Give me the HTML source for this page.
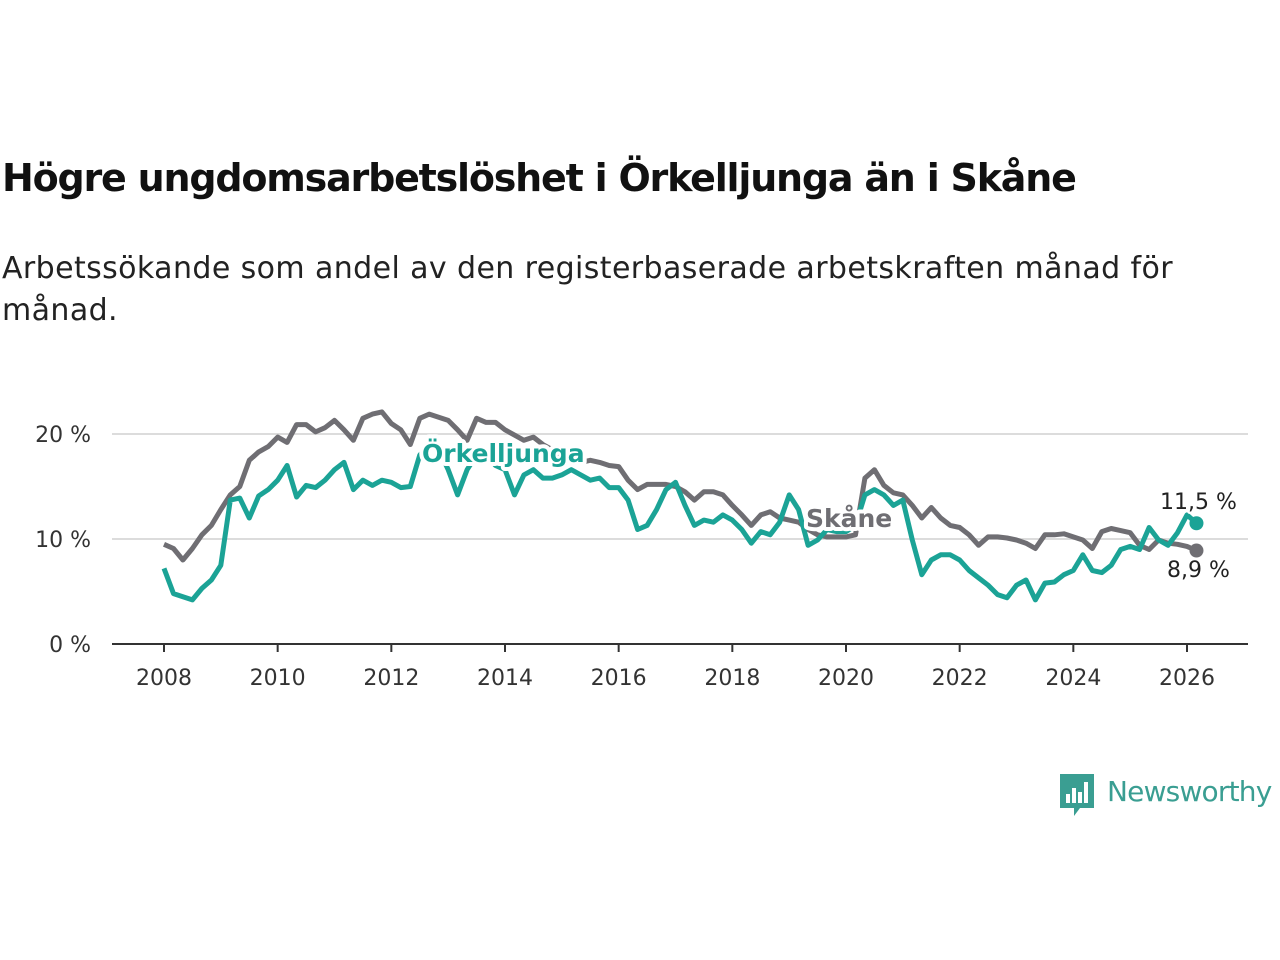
<!DOCTYPE html>
<html><head><meta charset="utf-8">
<style>
body{margin:0;background:#fff;width:1280px;height:960px;overflow:hidden;font-family:"Liberation Sans","DejaVu Sans",sans-serif;}
#title{position:absolute;left:2px;top:156px;font-size:38px;font-weight:bold;color:#111;font-family:"DejaVu Sans","Liberation Sans",sans-serif;letter-spacing:-1.2px}
#sub{position:absolute;left:2px;top:248px;font-size:30px;line-height:42px;color:#222;font-family:"DejaVu Sans","Liberation Sans",sans-serif;letter-spacing:0.4px;width:1250px}
svg{position:absolute;left:0;top:0}
</style></head><body>
<div id="title">Högre ungdomsarbetslöshet i Örkelljunga än i Skåne</div>
<div id="sub">Arbetssökande som andel av den registerbaserade arbetskraften månad för<br>månad.</div>
<svg id="chart" width="1280" height="960"></svg>
<script>
const yTicks=[0,10,20];
const xTicks=[2008,2010,2012,2014,2016,2018,2020,2022,2024,2026];
const startYear=2008, stepMonths=2;
const skane=[9.5,9.1,8.0,9.1,10.4,11.3,12.8,14.2,15,17.5,18.3,18.8,19.7,19.2,20.9,20.9,20.2,20.6,21.3,20.4,19.4,21.5,21.9,22.1,21,20.4,19,21.5,21.9,21.6,21.3,20.4,19.4,21.5,21.1,21.1,20.4,19.9,19.4,19.7,19,18.5,18,17.5,17.3,17.5,17.3,17,16.9,15.6,14.7,15.2,15.2,15.2,15,14.5,13.7,14.5,14.5,14.2,13.2,12.3,11.3,12.3,12.6,12,11.8,11.6,10.9,10.4,10.2,10.2,10.2,10.4,15.8,16.6,15.1,14.4,14.2,13.2,12,13,12,11.3,11.1,10.4,9.4,10.2,10.2,10.1,9.9,9.6,9.1,10.4,10.4,10.5,10.2,9.9,9.1,10.7,11,10.8,10.6,9.4,9.0,9.9,9.6,9.5,9.3,8.9];
const orkelljunga=[7.2,4.8,4.5,4.2,5.3,6.1,7.5,13.7,13.9,12,14.1,14.7,15.6,17,14,15.1,14.9,15.6,16.6,17.3,14.7,15.6,15.1,15.6,15.4,14.9,15,18,19,18.5,16.6,14.2,16.6,18,18,17,16.6,14.2,16.1,16.6,15.8,15.8,16.1,16.6,16.1,15.6,15.8,14.9,14.9,13.7,10.9,11.3,12.8,14.7,15.4,13.2,11.3,11.8,11.6,12.3,11.8,10.9,9.6,10.7,10.4,11.6,14.2,12.8,9.4,9.9,10.9,10.7,10.7,11.3,14.2,14.7,14.2,13.2,13.7,9.9,6.6,8,8.5,8.5,8,7,6.3,5.6,4.7,4.4,5.6,6.1,4.2,5.8,5.9,6.6,7,8.5,7,6.8,7.5,9,9.3,9,11.1,9.9,9.4,10.6,12.3,11.5];
const svg=document.getElementById('chart');
const NS='http://www.w3.org/2000/svg';
const X0=164,X1=1187,Y0=644,Y10=539;
function xs(yr){return X0+(yr-2008)*(X1-X0)/18;}
function ys(v){return Y0-v*(Y0-Y10)/10;}
function mk(t,a){const e=document.createElementNS(NS,t);for(const k in a)e.setAttribute(k,a[k]);svg.appendChild(e);return e;}
yTicks.forEach(v=>{
  if(v>0){const g=mk('line',{x1:112,x2:1248,y1:ys(v),y2:ys(v),stroke:'#dcdcdc','stroke-width':2});
  
  }
  const t=mk('text',{x:91,y:ys(v)+8,'text-anchor':'end','font-size':22,fill:'#333','font-family':'DejaVu Sans, Liberation Sans, sans-serif'});
  t.textContent=v+' %';
  
  
});
const ax=mk('line',{x1:112,x2:1248,y1:Y0,y2:Y0,stroke:'#333','stroke-width':2});


xTicks.forEach(yr=>{
  const tk=mk('line',{x1:xs(yr),x2:xs(yr),y1:Y0,y2:Y0+8,stroke:'#333','stroke-width':2});
  
  
  const t=mk('text',{x:xs(yr),y:Y0+41,'text-anchor':'middle','font-size':22,fill:'#333','font-family':'DejaVu Sans, Liberation Sans, sans-serif'});
  t.textContent=yr;
  
  
});
function pts(arr){return arr.map((v,i)=>xs(startYear+i*stepMonths/12).toFixed(1)+','+ys(v).toFixed(1)).join(' ');}
const ls=mk('polyline',{points:pts(skane),fill:'none',stroke:'#6f6e73','stroke-width':5,'stroke-linejoin':'round'});


const lo=mk('polyline',{points:pts(orkelljunga),fill:'none',stroke:'#1ba396','stroke-width':5,'stroke-linejoin':'round'});


const n=skane.length-1, lastX=xs(startYear+n*stepMonths/12);
const d1=mk('circle',{cx:lastX,cy:ys(orkelljunga[n]),r:7,fill:'#1ba396'});


const d2=mk('circle',{cx:lastX,cy:ys(skane[n]),r:7,fill:'#6f6e73'});


function lab(txt,x,y,col,bold,size,name){
  const t=mk('text',{x:x,y:y,fill:col,'font-size':size,'font-weight':bold?'bold':'normal','font-family':'DejaVu Sans, Liberation Sans, sans-serif',stroke:'#fff','stroke-width':bold?8:5,'paint-order':'stroke','stroke-linejoin':'round'});
  t.textContent=txt;
  
  
}
lab('Örkelljunga',422,462,'#1ba396',true,25,'orkelljunga-label');
lab('Skåne',806,527,'#6f6e73',true,25,'skane-label');
lab('11,5 %',1160,509,'#222',false,22,'orkelljunga-end-value');
lab('8,9 %',1167,577,'#222',false,22,'skane-end-value');
</script>
<div style="position:absolute;left:1060px;top:774px;">
<svg width="34" height="44" viewBox="0 0 34 44" style="position:absolute;left:0;top:0">
<path d="M0 0H34V34H20L14 42V34H0Z" fill="#3a9e92"/>
<rect x="6" y="20" width="4" height="9" fill="#fff"/><rect x="12" y="14" width="4" height="15" fill="#fff"/><rect x="18" y="18" width="4" height="11" fill="#fff"/><rect x="24" y="8" width="4" height="21" fill="#fff"/>
</svg>
<div style="position:absolute;left:47px;top:1px;font-size:28px;color:#3a9e92;font-family:'DejaVu Sans','Liberation Sans',sans-serif;white-space:nowrap;letter-spacing:-0.8px">Newsworthy</div>
</div>
</body></html>
